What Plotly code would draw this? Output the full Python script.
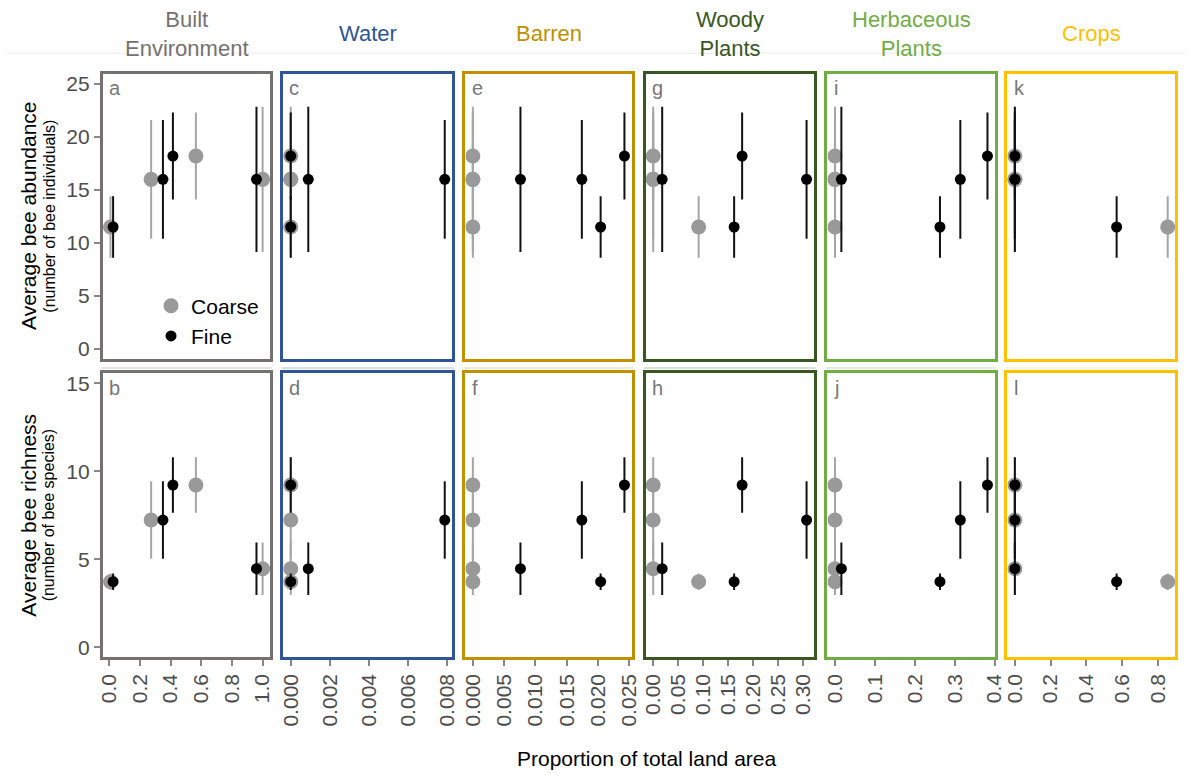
import plotly.graph_objects as go

# ---------------- data ----------------
land_classes = ["Built<br>Environment", "Water", "Barren", "Woody<br>Plants",
                "Herbaceous<br>Plants", "Crops"]
class_colors = ["#767171", "#2F5597", "#BF9000", "#385723", "#70AD47", "#FFC000"]
letters_top = ["a", "c", "e", "g", "i", "k"]
letters_bottom = ["b", "d", "f", "h", "j", "l"]

# bee responses at the four sites
abundance = [11.5, 16.0, 18.2, 16.0]
abundance_err = [2.9, 5.6, 4.1, 6.85]
richness = [3.73, 7.23, 9.22, 4.47]
richness_err = [0.47, 2.2, 1.57, 1.49]
abundance_ticks = [0, 5, 10, 15, 20, 25]
richness_ticks = [0, 5, 10, 15]

# proportion of total land area per site (coarse / fine resolution)
built_coarse = [0.008, 0.273, 0.565, 1.0]
built_fine = [0.025, 0.35, 0.415, 0.96]
water_coarse = [0.0, 0.0, 0.0, 0.0]
water_fine = [0.0, 0.0079, 0.0, 0.0009]
barren_coarse = [0.0, 0.0, 0.0, 0.0]
barren_fine = [0.0204, 0.0174, 0.0242, 0.0076]
woody_coarse = [0.091, 0.0, 0.0, 0.0]
woody_fine = [0.162, 0.307, 0.178, 0.018]
herb_coarse = [0.0, 0.0, 0.0, 0.0]
herb_fine = [0.263, 0.314, 0.382, 0.016]
crops_coarse = [0.856, 0.0, 0.0, 0.0]
crops_fine = [0.57, 0.0, 0.0, 0.0]

# x tick labels per land class
built_ticks = ["0.0", "0.2", "0.4", "0.6", "0.8", "1.0"]
water_ticks = ["0.000", "0.002", "0.004", "0.006", "0.008"]
barren_ticks = ["0.000", "0.005", "0.010", "0.015", "0.020", "0.025"]
woody_ticks = ["0.00", "0.05", "0.10", "0.15", "0.20", "0.25", "0.30"]
herb_ticks = ["0.0", "0.1", "0.2", "0.3", "0.4"]
crops_ticks = ["0.0", "0.2", "0.4", "0.6", "0.8"]

coarse_x = [built_coarse, water_coarse, barren_coarse, woody_coarse, herb_coarse, crops_coarse]
fine_x = [built_fine, water_fine, barren_fine, woody_fine, herb_fine, crops_fine]
x_ticklabels = [built_ticks, water_ticks, barren_ticks, woody_ticks, herb_ticks, crops_ticks]

# ---------------- layout geometry (pixels) ----------------
W, H = 1196, 776
col_px = [(96.7, 269.3), (279.3, 454.0), (464.0, 636.0),
          (646.7, 820.7), (831.0, 1004.0), (1013.3, 1186.7)]
row_px = [(70.7, 360.0), (371.7, 659.5)]
LW = 3
FONT = "Liberation Sans, Arial, sans-serif"
TICK_COLOR = "#4d4d4d"
TICK_SIZE = 21

fig = go.Figure()
layout = dict(width=W, height=H, margin=dict(l=0, r=0, t=0, b=0),
              paper_bgcolor="white", plot_bgcolor="white",
              font=dict(family=FONT, size=20, color="black"),
              showlegend=True)
annotations = []
shapes = []

rows = [(abundance, abundance_err, [-0.93, 25.96], abundance_ticks, letters_top),
        (richness, richness_err, [-0.52, 15.56], richness_ticks, letters_bottom)]

for r, (yv, ye, yrange, ytv, letters) in enumerate(rows):
    for c in range(6):
        idx = r * 6 + c + 1
        xs = "x" if idx == 1 else f"x{idx}"
        ys = "y" if idx == 1 else f"y{idx}"
        xa = "xaxis" if idx == 1 else f"xaxis{idx}"
        ya = "yaxis" if idx == 1 else f"yaxis{idx}"
        l, rr = col_px[c]
        t, b = row_px[r]
        allx = coarse_x[c] + fine_x[c]
        lo, hi = min(allx), max(allx)
        pad = 0.05 * (hi - lo)
        bottom = (r == 1)
        left = (c == 0)
        ticktext = x_ticklabels[c]
        tickvals = [float(s) for s in ticktext]
        layout[xa] = dict(domain=[(l + LW / 2) / W, (rr - LW / 2) / W], anchor=ys,
                          range=[lo - pad, hi + pad], showgrid=False, zeroline=False,
                          showline=True, mirror=True, linecolor=class_colors[c],
                          linewidth=LW, tickvals=tickvals, ticktext=ticktext,
                          ticks="outside" if bottom else "", ticklen=6, tickwidth=2,
                          tickcolor="#888888", showticklabels=bottom, tickangle=-90,
                          ticklabeloverflow="allow",
                          tickfont=dict(size=TICK_SIZE, color=TICK_COLOR, family=FONT))
        layout[ya] = dict(domain=[1 - (b - LW / 2) / H, 1 - (t + LW / 2) / H], anchor=xs,
                          range=yrange, showgrid=False, zeroline=False,
                          showline=True, mirror=True, linecolor=class_colors[c],
                          linewidth=LW, tickvals=ytv, ticktext=[str(v) for v in ytv],
                          ticks="outside" if left else "", ticklen=6, tickwidth=2,
                          tickcolor="#888888", showticklabels=left,
                          ticklabeloverflow="allow",
                          tickfont=dict(size=TICK_SIZE, color=TICK_COLOR, family=FONT))
        fig.add_trace(go.Scatter(
            x=coarse_x[c], y=yv, mode="markers", name="Coarse",
            xaxis=xs, yaxis=ys, showlegend=(idx == 1),
            marker=dict(color="#999999", size=15),
            error_y=dict(type="data", array=ye, color="#a6a6a6", thickness=2, width=0)))
        fig.add_trace(go.Scatter(
            x=fine_x[c], y=yv, mode="markers", name="Fine",
            xaxis=xs, yaxis=ys, showlegend=(idx == 1),
            marker=dict(color="black", size=11),
            error_y=dict(type="data", array=ye, color="#111111", thickness=2, width=0)))
        # panel letter
        annotations.append(dict(text=letters[c], x=(l + 6) / W, y=1 - (t + 3) / H,
                                xref="paper", yref="paper", xanchor="left", yanchor="top",
                                showarrow=False, font=dict(size=20, color="#777777")))
        if r == 0:
            # strip title
            annotations.append(dict(text=land_classes[c], x=(l + rr) / 2 / W, y=1 - 32 / H,
                                    xref="paper", yref="paper", xanchor="center",
                                    yanchor="middle", showarrow=False,
                                    font=dict(size=22, color=class_colors[c])))
            # faint strip border under row 1
            shapes.append(dict(type="line", xref="paper", yref="paper",
                               x0=l / W, x1=rr / W, y0=1 - 368 / H, y1=1 - 368 / H,
                               line=dict(color=class_colors[c], width=2), opacity=0.18))

# faint line under strip titles
shapes.append(dict(type="line", xref="paper", yref="paper", x0=0, x1=1,
                   y0=1 - 51.5 / H, y1=1 - 51.5 / H, line=dict(color="#ececec", width=1)))

# y-axis titles
for (t, b), main, sub in [(row_px[0], "Average bee abundance", "(number of bee individuals)"),
                          (row_px[1], "Average bee richness", "(number of bee species)")]:
    yc = 1 - (t + b) / 2 / H
    annotations.append(dict(text=main, x=23 / W, y=yc, xref="paper", yref="paper",
                            textangle=-90, xanchor="center", yanchor="middle",
                            showarrow=False, font=dict(size=21, color="black")))
    annotations.append(dict(text=sub, x=44 / W, y=yc, xref="paper", yref="paper",
                            textangle=-90, xanchor="center", yanchor="middle",
                            showarrow=False, font=dict(size=16, color="black")))

# x-axis title
annotations.append(dict(text="Proportion of total land area", x=649.5 / W, y=1 - 760 / H,
                        xref="paper", yref="paper", xanchor="center", yanchor="middle",
                        showarrow=False, font=dict(size=21, color="black")))

layout["annotations"] = annotations
layout["shapes"] = shapes
layout["legend"] = dict(x=147 / W, y=1 - 285 / H, xanchor="left", yanchor="top",
                        bgcolor="rgba(0,0,0,0)", font=dict(size=21, color="black"),
                        itemsizing="trace", tracegroupgap=0)
fig.update_layout(**layout)

fig.write_html("out.html", config={"displayModeBar": False},
               post_script="document.body.style.margin='0';")
